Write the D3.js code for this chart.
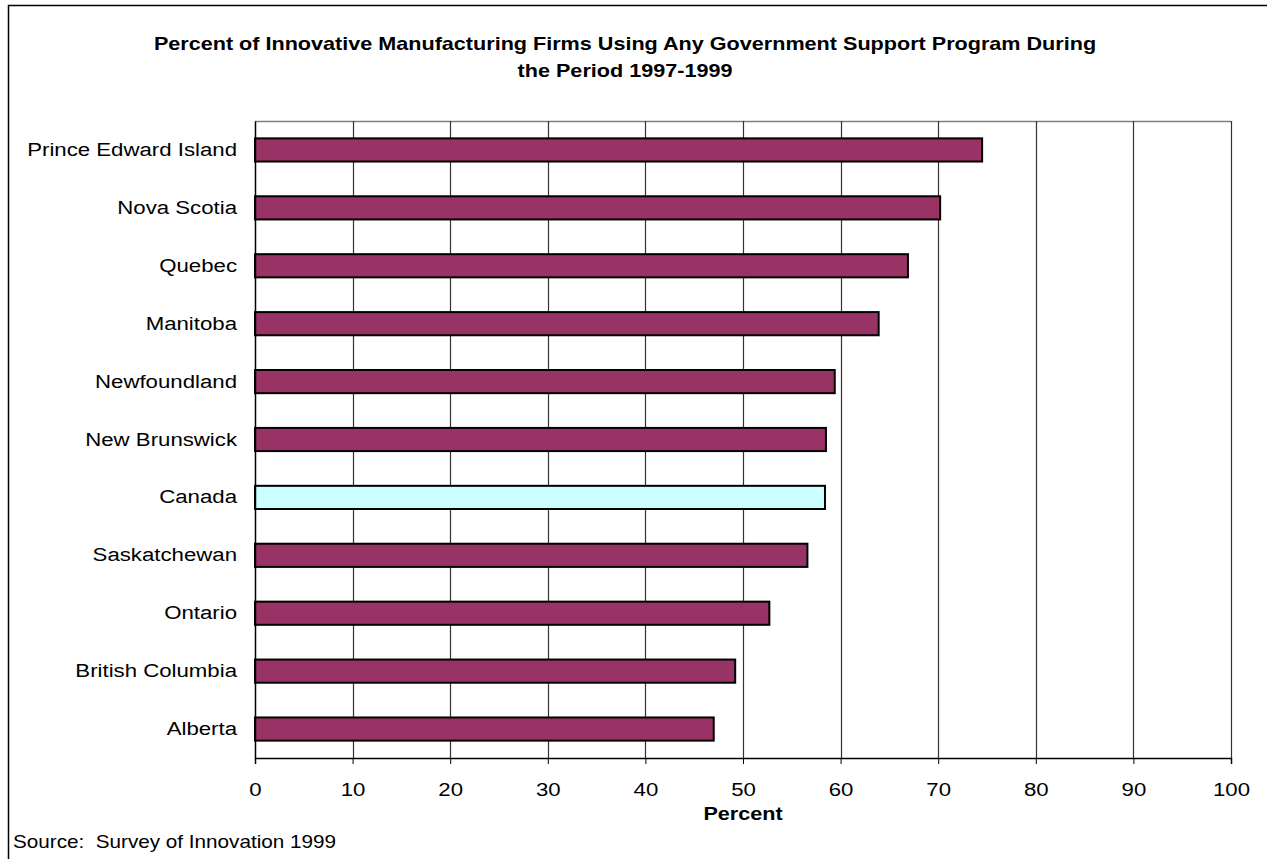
<!DOCTYPE html>
<html>
<head>
<meta charset="utf-8">
<script src="https://cdn.jsdelivr.net/npm/d3@7"></script>
<style>
  html, body { margin: 0; padding: 0; background: #fff; }
  svg { display: block; font-family: "Liberation Sans", Arial, sans-serif; }
  text { white-space: pre; }
</style>
</head>
<body>
<svg id="chart" width="1267" height="859"></svg>
<script>
// Provinces, top to bottom
const categories = [
  "Prince Edward Island", "Nova Scotia", "Quebec", "Manitoba", "Newfoundland",
  "New Brunswick", "Canada", "Saskatchewan", "Ontario", "British Columbia", "Alberta"
];
// Percent of innovative manufacturing firms using any government support program
const values = [74.5, 70.2, 66.9, 63.9, 59.4, 58.5, 58.4, 56.6, 52.7, 49.2, 47.0];
const xTicks = [0, 10, 20, 30, 40, 50, 60, 70, 80, 90, 100];
const titleLines = [
  "Percent of Innovative Manufacturing Firms Using Any Government Support Program During",
  "the Period 1997-1999"
];
const xAxisTitle = "Percent";
const sourceNote = "Source:  Survey of Innovation 1999";

// text in this chart is set slightly wide
const WIDE = 1.17;
const WIDE_BOLD = 1.2;

const svg = d3.select("#chart");
const plot = { left: 255, right: 1231, top: 121, bottom: 758 };

// outer frame
svg.append("rect")
  .attr("x", 8.5).attr("y", 5.5)
  .attr("width", 1300).attr("height", 900)
  .attr("fill", "none").attr("stroke", "#000").attr("stroke-width", 1.5);

const x = d3.scaleLinear().domain([0, 100]).range([plot.left, plot.right]);
const y = d3.scaleBand().domain(categories).range([plot.top, plot.bottom]).paddingInner(0.6).paddingOuter(0.3);

// helper: text placed at (tx, ty) and stretched horizontally
function wideText(sel, tx, ty, sx, str) {
  return sel.append("text")
    .attr("transform", `translate(${tx},${ty}) scale(${sx},1)`)
    .text(str);
}

// title
titleLines.forEach((line, i) => {
  wideText(svg, 625, 50 + i * 27, WIDE_BOLD, line)
    .attr("text-anchor", "middle")
    .attr("font-size", 18).attr("font-weight", "bold");
});

// top edge of plot area
svg.append("line")
  .attr("x1", plot.left).attr("x2", plot.right)
  .attr("y1", plot.top + 0.5).attr("y2", plot.top + 0.5)
  .attr("stroke", "#808080").attr("stroke-width", 1.5);

// vertical gridlines
svg.append("g").selectAll("line").data(xTicks.slice(1)).join("line")
  .attr("x1", d => Math.round(x(d)) + 0.5).attr("x2", d => Math.round(x(d)) + 0.5)
  .attr("y1", plot.top).attr("y2", plot.bottom)
  .attr("stroke", "#333").attr("stroke-width", 1.2);

// bars
svg.append("g").selectAll("rect").data(categories).join("rect")
  .attr("x", x(0))
  .attr("y", d => y(d))
  .attr("width", (d, i) => x(values[i]) - x(0))
  .attr("height", y.bandwidth())
  .attr("fill", d => d === "Canada" ? "#CCFFFF" : "#993366")
  .attr("stroke", "#000").attr("stroke-width", 2);

// x axis
const xAxis = svg.append("g")
  .attr("transform", `translate(0,${plot.bottom})`)
  .call(d3.axisBottom(x).tickValues(xTicks).tickSize(6).tickPadding(19).tickFormat(d3.format("d")));
xAxis.select(".domain").attr("stroke", "#000").attr("stroke-width", 1.5);
xAxis.selectAll(".tick line").attr("stroke", "#000");
xAxis.selectAll(".tick text")
  .attr("font-size", 19).attr("fill", "#000")
  .attr("font-family", "'Liberation Sans', Arial, sans-serif")
  .attr("transform", `scale(${WIDE},1)`);

// y axis
const yAxis = svg.append("g")
  .attr("transform", `translate(${plot.left},0)`)
  .call(d3.axisLeft(y).tickSize(0).tickPadding(18));
yAxis.select(".domain").attr("stroke", "#000").attr("stroke-width", 1.5);
yAxis.selectAll(".tick text")
  .attr("font-size", 19).attr("fill", "#000")
  .attr("font-family", "'Liberation Sans', Arial, sans-serif")
  .attr("x", -18 / WIDE)
  .attr("transform", `scale(${WIDE},1)`);

// axis title
wideText(svg, x(50), 820, WIDE_BOLD, xAxisTitle)
  .attr("text-anchor", "middle")
  .attr("font-size", 18).attr("font-weight", "bold");

// source note
wideText(svg, 13, 848, 1.15, sourceNote)
  .attr("font-size", 18);
</script>
</body>
</html>
